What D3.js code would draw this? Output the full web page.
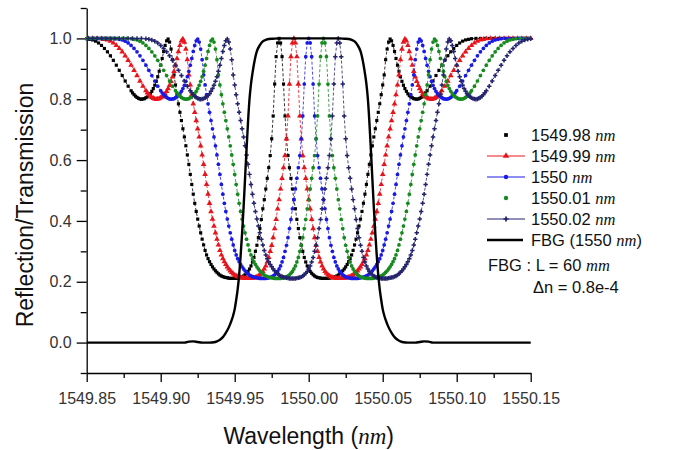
<!DOCTYPE html>
<html>
<head>
<meta charset="utf-8">
<script src="https://cdn.jsdelivr.net/npm/d3@7"></script>
<style>
	body { margin: 0; background: #fff; }
	svg { display: block; font-family: "Liberation Sans", Arial, sans-serif; }
	.tick text { fill: #333; font-size: 16px; }
	.unit { font-family: "Liberation Serif", "Times New Roman", serif; font-style: italic; }
</style>
</head>
<body>
<svg id="chart" width="678" height="450"></svg>
<script>
// axis ranges and ticks
var xDomain = [1549.85, 1550.15];
var yDomain = [-0.1, 1.1];
var xTicks = [1549.85, 1549.90, 1549.95, 1550.00, 1550.05, 1550.10, 1550.15];
var xTickLabels = ['1549.85', '1549.90', '1549.95', '1550.00', '1550.05', '1550.10', '1550.15'];
var xMinorTicks = [1549.875, 1549.925, 1549.975, 1550.025, 1550.075, 1550.125];
var yTicks = [0, 0.2, 0.4, 0.6, 0.8, 1.0];
var yTickLabels = ['0.0', '0.2', '0.4', '0.6', '0.8', '1.0'];
var yMinorTicks = [-0.1, 0.1, 0.3, 0.5, 0.7, 0.9, 1.1];

// sensor spectra: same shape, shifted to each centre wavelength
var centers = [1549.98, 1549.99, 1550.00, 1550.01, 1550.02];
var seriesNames = ['1549.98', '1549.99', '1550', '1550.01', '1550.02'];

// half profile: [offset from centre (nm), level]
var sensorHalf = [
	[0.000, 1.000], [0.001, 0.985], [0.002, 0.940], [0.003, 0.850], [0.004, 0.745], [0.005, 0.670],
	[0.006, 0.615], [0.007, 0.575], [0.008, 0.540], [0.009, 0.505], [0.010, 0.470], [0.011, 0.440],
	[0.012, 0.405], [0.013, 0.375], [0.014, 0.345], [0.015, 0.320], [0.016, 0.300], [0.017, 0.280],
	[0.018, 0.265], [0.019, 0.252], [0.020, 0.242], [0.021, 0.234], [0.022, 0.228], [0.023, 0.223],
	[0.024, 0.219], [0.025, 0.216], [0.026, 0.214], [0.027, 0.213], [0.028, 0.212], [0.029, 0.211],
	[0.030, 0.211], [0.031, 0.211], [0.032, 0.211], [0.033, 0.211], [0.034, 0.212], [0.035, 0.213],
	[0.036, 0.214], [0.037, 0.215], [0.038, 0.217], [0.039, 0.219], [0.040, 0.222], [0.041, 0.226],
	[0.042, 0.231], [0.043, 0.236], [0.044, 0.242], [0.045, 0.249], [0.046, 0.257], [0.047, 0.266],
	[0.048, 0.276], [0.049, 0.288], [0.050, 0.303], [0.051, 0.321], [0.052, 0.340], [0.053, 0.361],
	[0.054, 0.383], [0.055, 0.406], [0.056, 0.431], [0.057, 0.458], [0.058, 0.488], [0.059, 0.520],
	[0.060, 0.553], [0.061, 0.586], [0.062, 0.617], [0.063, 0.647], [0.064, 0.676], [0.065, 0.703],
	[0.066, 0.730], [0.067, 0.757], [0.068, 0.785], [0.069, 0.815], [0.070, 0.847], [0.071, 0.880],
	[0.072, 0.930], [0.073, 0.965], [0.074, 0.988], [0.075, 0.998], [0.076, 0.992], [0.077, 0.977],
	[0.078, 0.957], [0.079, 0.934], [0.080, 0.912], [0.081, 0.892], [0.082, 0.874], [0.083, 0.859],
	[0.084, 0.846], [0.085, 0.835], [0.086, 0.826], [0.087, 0.818], [0.088, 0.812], [0.089, 0.808],
	[0.090, 0.805], [0.091, 0.802], [0.092, 0.801], [0.093, 0.800], [0.094, 0.801], [0.095, 0.803],
	[0.096, 0.806], [0.097, 0.810], [0.098, 0.815], [0.099, 0.821], [0.100, 0.828], [0.102, 0.843],
	[0.104, 0.860], [0.106, 0.878], [0.108, 0.895], [0.110, 0.912], [0.112, 0.928], [0.114, 0.943],
	[0.116, 0.956], [0.118, 0.967], [0.120, 0.977], [0.122, 0.985], [0.124, 0.991], [0.126, 0.995],
	[0.128, 0.997], [0.130, 0.999], [0.133, 1.000], [0.136, 1.000], [0.139, 1.000], [0.142, 1.000],
	[0.145, 1.000], [0.148, 1.000], [0.151, 1.000], [0.154, 1.000], [0.157, 1.000], [0.160, 1.000],
	[0.163, 1.000], [0.166, 1.000], [0.169, 1.000], [0.172, 1.000]
];

// FBG reflection, centred at 1550 nm
var fbgCenter = 1550.00;
var fbgHalf = [
	[0.000, 1.000], [0.010, 1.000], [0.020, 1.000], [0.024, 0.999], [0.027, 0.998], [0.029, 0.995],
	[0.031, 0.990], [0.033, 0.978], [0.035, 0.958], [0.036, 0.940], [0.037, 0.915], [0.038, 0.885],
	[0.039, 0.850], [0.040, 0.800], [0.041, 0.725], [0.042, 0.635], [0.043, 0.540], [0.044, 0.445],
	[0.045, 0.360], [0.046, 0.285], [0.047, 0.222], [0.048, 0.175], [0.049, 0.140], [0.050, 0.110],
	[0.051, 0.090], [0.052, 0.075], [0.054, 0.050], [0.056, 0.032], [0.058, 0.018], [0.060, 0.009],
	[0.062, 0.004], [0.064, 0.001], [0.067, 0.000], [0.072, 0.000], [0.075, 0.002], [0.078, 0.004],
	[0.081, 0.003], [0.084, 0.000], [0.100, 0.000], [0.130, 0.000], [0.150, 0.000]
];

var colors = ['#000000', '#e8141c', '#1a1ae6', '#168a1e', '#23236e'];
var symbols = [d3.symbolSquare, d3.symbolTriangle, d3.symbolCircle, d3.symbolCircle, d3.symbolCross];
var symbolSizes = [10, 14, 11, 11, 11];
var legendLine = [false, true, true, false, true];

function mirror(half, center) {
	var pts = [];
	for (var i = half.length - 1; i > 0; i--) {
		pts.push([center - half[i][0], half[i][1]]);
	}
	for (var j = 0; j < half.length; j++) {
		pts.push([center + half[j][0], half[j][1]]);
	}
	return pts.filter(function (p) {
		return p[0] >= xDomain[0] - 1e-9 && p[0] <= xDomain[1] + 1e-9;
	});
}

var svg = d3.select('#chart');

var x = d3.scaleLinear().domain(xDomain).range([86.7, 530.7]);
var y = d3.scaleLinear().domain(yDomain).range([373, 8]);

// axes
svg.append('g')
	.attr('transform', 'translate(0,373)')
	.call(d3.axisBottom(x).tickValues(xMinorTicks).tickSize(5).tickSizeOuter(0).tickFormat(''))
	.call(function (g) { g.select('.domain').remove(); });

svg.append('g')
	.attr('transform', 'translate(0,373)')
	.call(d3.axisBottom(x).tickValues(xTicks).tickSize(9).tickSizeOuter(0).tickPadding(11)
		.tickFormat(function (d, i) { return xTickLabels[i]; }));

svg.append('g')
	.attr('transform', 'translate(86.7,0)')
	.call(d3.axisLeft(y).tickValues(yMinorTicks).tickSize(6).tickSizeOuter(0).tickFormat(''))
	.call(function (g) { g.select('.domain').remove(); });

svg.append('g')
	.attr('transform', 'translate(86.7,0)')
	.call(d3.axisLeft(y).tickValues(yTicks).tickSize(10).tickSizeOuter(0).tickPadding(5)
		.tickFormat(function (d, i) { return yTickLabels[i]; }));

svg.selectAll('.domain, .tick line').attr('stroke', '#000').attr('stroke-width', 1.3);

// sensor curves
var line = d3.line()
	.x(function (d) { return x(d[0]); })
	.y(function (d) { return y(d[1]); });

var plot = svg.append('g');

centers.forEach(function (c, i) {
	var pts = mirror(sensorHalf, c);
	var g = plot.append('g').attr('class', 'series-' + i);

	g.append('path')
		.datum(pts)
		.attr('fill', 'none')
		.attr('stroke', colors[i])
		.attr('stroke-width', 0.8)
		.attr('stroke-dasharray', '3,2')
		.attr('d', line);

	g.selectAll('path.mark')
		.data(pts)
		.enter().append('path')
		.attr('class', 'mark')
		.attr('transform', function (d) { return 'translate(' + x(d[0]) + ',' + y(d[1]) + ')'; })
		.attr('d', d3.symbol().type(symbols[i]).size(symbolSizes[i]))
		.attr('fill', colors[i]);
});

// FBG reflection
plot.append('path')
	.datum(mirror(fbgHalf, fbgCenter))
	.attr('fill', 'none')
	.attr('stroke', '#000')
	.attr('stroke-width', 2.4)
	.attr('d', d3.line().curve(d3.curveMonotoneX)
		.x(function (d) { return x(d[0]); })
		.y(function (d) { return y(d[1]); }));

// legend
var legend = svg.append('g').attr('class', 'legend').style('font-size', '16.5px');
var rowY = [135, 156, 177, 198, 219, 240];

seriesNames.forEach(function (name, i) {
	var ly = rowY[i];
	if (legendLine[i]) {
		legend.append('line')
			.attr('x1', 487).attr('x2', 525).attr('y1', ly).attr('y2', ly)
			.attr('stroke', colors[i]).attr('stroke-width', 1);
	}
	legend.append('path')
		.attr('transform', 'translate(506,' + ly + ')')
		.attr('d', d3.symbol().type(symbols[i]).size(symbolSizes[i] + 4))
		.attr('fill', colors[i]);

	var t = legend.append('text').attr('x', 531).attr('y', ly).attr('dy', '0.36em').attr('fill', '#111');
	t.append('tspan').text(name + ' ');
	t.append('tspan').attr('class', 'unit').text('nm');
});

legend.append('line')
	.attr('x1', 487).attr('x2', 523).attr('y1', rowY[5]).attr('y2', rowY[5])
	.attr('stroke', '#000').attr('stroke-width', 2.4);

var ft = legend.append('text').attr('x', 531).attr('y', rowY[5]).attr('dy', '0.36em').attr('fill', '#111');
ft.append('tspan').text('FBG (1550 ');
ft.append('tspan').attr('class', 'unit').text('nm');
ft.append('tspan').text(')');

var n1 = legend.append('text').attr('x', 488).attr('y', 271).attr('fill', '#111');
n1.append('tspan').text('FBG : L = 60 ');
n1.append('tspan').attr('class', 'unit').text('mm');

legend.append('text').attr('x', 533).attr('y', 293).attr('fill', '#111').text('\u0394n = 0.8e-4');

// axis titles
var xt = svg.append('text')
	.attr('x', 308.7).attr('y', 444)
	.attr('text-anchor', 'middle')
	.style('font-size', '23px')
	.attr('fill', '#111');
xt.append('tspan').text('Wavelength (');
xt.append('tspan').attr('class', 'unit').text('nm');
xt.append('tspan').text(')');

svg.append('text')
	.attr('transform', 'translate(33,205) rotate(-90)')
	.attr('text-anchor', 'middle')
	.style('font-size', '23px')
	.attr('fill', '#111')
	.text('Reflection/Transmission');
</script>
</body>
</html>
